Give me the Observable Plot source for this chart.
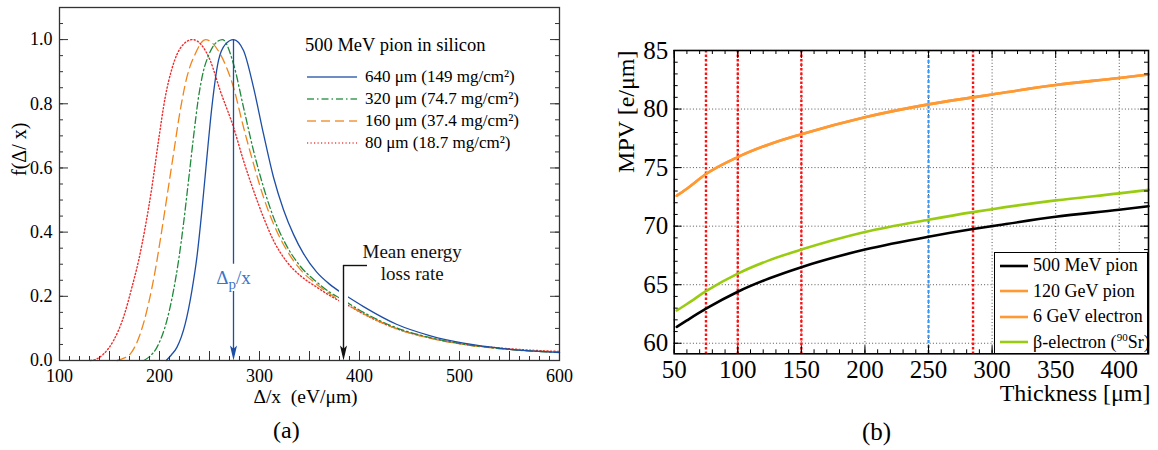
<!DOCTYPE html>
<html><head><meta charset="utf-8">
<script src="https://cdn.jsdelivr.net/npm/d3@7"></script>
<script src="https://cdn.jsdelivr.net/npm/@observablehq/plot@0.6"></script>
<style>
body{margin:0;background:#fff;}
#wrap{position:relative;width:1158px;height:450px;overflow:hidden;font-family:"Liberation Serif","Times New Roman",serif;color:#000;}
#wrap svg text{font-family:"Liberation Serif","Times New Roman",serif !important;}
.abs{position:absolute;white-space:nowrap;line-height:1;}
.row{position:absolute;white-space:nowrap;display:flex;align-items:center;}
</style></head><body><div id="wrap"></div>
<script>
// ---------------- Panel (a) data: 500 MeV pion in silicon ----------------
const seriesA = ["640 μm (149 mg/cm²)", "320 μm (74.7 mg/cm²)", "160 μm (37.4 mg/cm²)", "80 μm (18.7 mg/cm²)"];
const delta640 = [206.7, 212, 217.4, 225.7, 232.4, 237.4, 242.4, 247.4, 251, 259, 266, 274, 284, 294, 304, 314, 324, 334, 344, 357, 370, 381, 389, 404, 437, 471, 504, 544, 600];
const f640     = [0, 0.018, 0.041, 0.114, 0.218, 0.322, 0.467, 0.633, 0.75, 0.935, 0.986, 1.0, 0.966, 0.851, 0.706, 0.571, 0.47, 0.393, 0.333, 0.276, 0.238, 0.213, 0.197, 0.168, 0.113, 0.077, 0.054, 0.037, 0.025];
const delta320 = [184.5, 190, 197.4, 207.4, 214, 219, 224, 229, 234, 239, 244, 249, 255, 263, 274, 284, 294, 304, 314, 327, 341, 357, 370, 381, 389, 404, 437, 471, 504, 544, 600];
const f320     = [0, 0.012, 0.041, 0.125, 0.218, 0.31, 0.426, 0.56, 0.696, 0.82, 0.903, 0.95, 0.985, 1.0, 0.924, 0.789, 0.654, 0.54, 0.446, 0.358, 0.293, 0.245, 0.213, 0.193, 0.178, 0.15, 0.102, 0.071, 0.051, 0.036, 0.025];
const delta160 = [157.7, 165, 170.7, 180.7, 189, 195.7, 200.7, 207.4, 214, 220.7, 227.4, 235.7, 246, 260.7, 274, 284, 294, 304, 314, 327, 341, 357, 370, 381, 389, 404, 437, 471, 504, 544, 600];
const f160     = [0, 0.008, 0.02, 0.083, 0.177, 0.28, 0.374, 0.509, 0.644, 0.779, 0.883, 0.955, 1.0, 0.955, 0.851, 0.727, 0.613, 0.509, 0.426, 0.345, 0.283, 0.238, 0.208, 0.187, 0.172, 0.146, 0.099, 0.069, 0.05, 0.036, 0.026];
const delta80  = [131, 138, 144, 154, 164, 172.4, 179, 185.7, 192.4, 199, 205.7, 212.4, 222.4, 233, 250.7, 260.7, 274, 284, 294, 304, 314, 327, 341, 357, 370, 381, 389, 404, 437, 471, 504, 544, 600];
const f80      = [0, 0.006, 0.02, 0.062, 0.135, 0.228, 0.31, 0.415, 0.54, 0.685, 0.82, 0.909, 0.98, 1.0, 0.935, 0.841, 0.727, 0.623, 0.53, 0.446, 0.374, 0.309, 0.264, 0.229, 0.203, 0.184, 0.171, 0.145, 0.099, 0.07, 0.051, 0.038, 0.028];
const meanLossRate = 384;               // eV/μm, "Mean energy loss rate" arrow
const xTickLabelsA = [100, 200, 300, 400, 500, 600];
const yTickLabelsA = [0, 0.2, 0.4, 0.6, 0.8, 1.0];
const legendTitleA = "500 MeV pion in silicon";

// ---------------- Panel (b) data: MPV vs thickness ----------------
const seriesB = ["500 MeV pion", "120 GeV pion", "6 GeV electron", "β-electron (⁹⁰Sr)"];
const thickness   = [52, 60, 75, 100, 125, 150, 200, 250, 285, 300, 350, 400, 423];
const mpvPion500  = [61.4, 61.95, 62.95, 64.4, 65.55, 66.5, 68.0, 69.1, 69.75, 70.0, 70.8, 71.4, 71.7];
const mpvPion120  = [72.6, 73.2, 74.45, 75.9, 77.0, 77.85, 79.3, 80.4, 81.0, 81.25, 82.05, 82.65, 82.95];
const mpvElectron6= [72.6, 73.2, 74.45, 75.9, 77.0, 77.85, 79.3, 80.4, 81.0, 81.25, 82.05, 82.65, 82.95];
const mpvBetaSr90 = [62.8, 63.35, 64.45, 65.95, 67.1, 68.0, 69.5, 70.55, 71.2, 71.45, 72.2, 72.8, 73.1];
const redLinesB  = [75, 100, 150, 285];
const blueLinesB = [250];
const xTickLabelsB = [50, 100, 150, 200, 250, 300, 350, 400];
const yTickLabelsB = [60, 65, 70, 75, 80, 85];

// ---------------- helpers ----------------
const FONT = "Liberation Serif, Times New Roman, serif";
const wrap = document.getElementById("wrap");
function place(el, left, top) { el.style.position = "absolute"; el.style.left = left + "px"; el.style.top = top + "px"; wrap.appendChild(el); return el; }
const pts = (xs, ys) => xs.map((x, i) => ({x, y: ys[i]}));
function frameTicks(o) {
  const m = [];
  const s = o.stroke || "#222";
  if (o.bottom) { m.push(Plot.ruleX(o.xMinor, {insetTop: o.innerH - o.minor, stroke: s})); m.push(Plot.ruleX(o.xMajor, {insetTop: o.innerH - o.major, stroke: s})); }
  if (o.top)    { m.push(Plot.ruleX(o.xMinor, {insetBottom: o.innerH - o.minor, stroke: s})); m.push(Plot.ruleX(o.xMajor, {insetBottom: o.innerH - o.major, stroke: s})); }
  if (o.left)   { m.push(Plot.ruleY(o.yMinor, {insetRight: o.innerW - o.minor, stroke: s})); m.push(Plot.ruleY(o.yMajor, {insetRight: o.innerW - o.major, stroke: s})); }
  if (o.right)  { m.push(Plot.ruleY(o.yMinor, {insetLeft: o.innerW - o.minor, stroke: s})); m.push(Plot.ruleY(o.yMajor, {insetLeft: o.innerW - o.major, stroke: s})); }
  return m;
}
// narrow filled arrow head, tip at the data point, pointing down
const headSymbol = { draw(ctx, size) { const r = Math.sqrt(size / Math.PI); const w = r * 0.7, h = r * 3; ctx.moveTo(0, 0); ctx.lineTo(-w, -h); ctx.lineTo(0, -h * 0.78); ctx.lineTo(w, -h); ctx.closePath(); } };

// ---------------- Panel (a) ----------------
const aW = 580, aH = 410, aML = 59, aMR = 21, aMT = 7, aMB = 50;
const aInnerW = aW - aML - aMR, aInnerH = aH - aMT - aMB;
const colA = {b: "#1d4ea6", g: "#1f8a3a", o: "#f0851c", r: "#ee2b2b"};
const peakX = delta640[f640.indexOf(d3.max(f640))];

const plotA = Plot.plot({
  width: aW, height: aH, marginLeft: aML, marginRight: aMR, marginTop: aMT, marginBottom: aMB,
  style: {fontFamily: FONT, fontSize: "18px", color: "#000", background: "transparent", overflow: "visible"},
  x: {domain: [100, 600], ticks: xTickLabelsA, tickSize: 0, tickPadding: 9, tickFormat: d => String(d), label: null},
  y: {domain: [0, 1.1], ticks: yTickLabelsA, tickSize: 0, tickPadding: 7, tickFormat: d => d.toFixed(1), label: null},
  marks: [
    Plot.line(pts(delta80, f80),   {x: "x", y: "y", curve: "monotone-x", stroke: colA.r, strokeWidth: 1.4, strokeDasharray: "1.2,2.3"}),
    Plot.line(pts(delta160, f160), {x: "x", y: "y", curve: "monotone-x", stroke: colA.o, strokeWidth: 1.3, strokeDasharray: "9,5"}),
    Plot.line(pts(delta320, f320), {x: "x", y: "y", curve: "monotone-x", stroke: colA.g, strokeWidth: 1.3, strokeDasharray: "7,3,1.5,3"}),
    Plot.line(pts(delta640, f640), {x: "x", y: "y", curve: "monotone-x", stroke: colA.b, strokeWidth: 1.3}),
    // Delta_p/x arrow
    Plot.ruleX([peakX], {y1: 1.0, y2: 0.03, stroke: colA.b, strokeWidth: 1.3}),
    Plot.dot([{x: peakX, y: 0}], {x: "x", y: "y", r: 5, symbol: headSymbol, fill: colA.b, stroke: null}),
    Plot.ruleX([peakX], {y1: 0.215, y2: 0.3, stroke: "white", strokeWidth: 8}),
    Plot.text([{x: peakX, y: 0.257, t: "Δp/x"}], {x: "x", y: "y", text: "t", fill: "#3b74c8", fontSize: 19, fontFamily: FONT}),
    // Mean energy loss rate arrow
    Plot.ruleX([meanLossRate], {y1: 0.11, y2: 0.27, stroke: "white", strokeWidth: 9}),
    Plot.ruleX([meanLossRate], {y1: 0.296, y2: 0.03, stroke: "#111", strokeWidth: 1.4}),
    Plot.ruleY([0.296], {x1: meanLossRate, x2: meanLossRate + 24, stroke: "#111", strokeWidth: 1.4}),
    Plot.dot([{x: meanLossRate, y: 0}], {x: "x", y: "y", r: 5, symbol: headSymbol, fill: "#111", stroke: null}),
    Plot.text([{x: 452.7, y: 0.337, t: "Mean energy"}, {x: 452.7, y: 0.27, t: "loss rate"}], {x: "x", y: "y", text: "t", fontSize: 19, fill: "#111", fontFamily: FONT}),
    // frame and ticks
    Plot.frame({stroke: "#333", strokeWidth: 1.3}),
    ...frameTicks({bottom: true, left: true, right: true, innerW: aInnerW, innerH: aInnerH, minor: 4, major: 9,
      xMinor: d3.range(100, 601, 10), xMajor: d3.range(100, 601, 50), yMinor: d3.range(0, 1.1001, 0.05), yMajor: yTickLabelsA, stroke: "#333"}),
    // axis titles
    Plot.text(["f(Δ/ x)"], {frameAnchor: "left", rotate: -90, dx: -40, dy: -8, fontSize: 20, fontFamily: FONT}),
    Plot.text(["Δ/x\u2002(eV/μm)"], {frameAnchor: "bottom", dy: 42, dx: -4, fontSize: 19.5, fontFamily: FONT})
  ]
});
// subscript p in Delta_p/x
for (const t of plotA.querySelectorAll("text")) {
  if (t.textContent === "Δp/x") {
    const target = t.querySelector("tspan") || t;
    target.textContent = "Δ";
    const sub = document.createElementNS("http://www.w3.org/2000/svg", "tspan");
    sub.setAttribute("dy", "5"); sub.setAttribute("font-size", "15"); sub.textContent = "p";
    const rest = document.createElementNS("http://www.w3.org/2000/svg", "tspan");
    rest.setAttribute("dy", "-5"); rest.textContent = "/x";
    target.appendChild(sub); target.appendChild(rest);
  }
}
place(plotA, 0, 0);

// legend (a)
const legA = document.createElement("div");
legA.className = "abs"; legA.style.fontSize = "18.5px"; legA.textContent = legendTitleA;
place(legA, 305, 36);
const legStylesA = [
  {c: colA.b, d: null}, {c: colA.g, d: "7,3,1.5,3"}, {c: colA.o, d: "9,5"}, {c: colA.r, d: "1.2,2.3"}
];
const rowYA = [76.7, 98.5, 120.5, 143];
seriesA.forEach((s, i) => {
  const row = document.createElement("div");
  row.className = "row"; row.style.height = "20px"; row.style.fontSize = "17px";
  const st = legStylesA[i];
  row.innerHTML = `<svg width="60" height="20" style="display:block"><line x1="2" x2="52" y1="10" y2="10" stroke="${st.c}" stroke-width="1.4" ${st.d ? `stroke-dasharray="${st.d}"` : ""} opacity="0.85"/></svg><span>${s}</span>`;
  place(row, 305, rowYA[i] - 10);
});

// ---------------- Panel (b) ----------------
const bW = 578, bH = 410, bML = 93.7, bMR = 10, bMT = 50, bMB = 56.7;
const bInnerW = bW - bML - bMR, bInnerH = bH - bMT - bMB;
const colB = ["#000000", "#ff9933", "#ff9933", "#99cc11"];
const valsB = [mpvPion500, mpvPion120, mpvElectron6, mpvBetaSr90];

const plotB = Plot.plot({
  width: bW, height: bH, marginLeft: bML, marginRight: bMR, marginTop: bMT, marginBottom: bMB,
  style: {fontFamily: FONT, fontSize: "25px", color: "#000", background: "transparent", overflow: "visible"},
  x: {domain: [50, 423], ticks: xTickLabelsB, tickSize: 0, tickPadding: 6, tickFormat: d => String(d), label: null},
  y: {domain: [59.1, 85], ticks: yTickLabelsB, tickSize: 0, tickPadding: 6, tickFormat: d => String(d), label: null},
  marks: [
    Plot.ruleX(xTickLabelsB.slice(1), {stroke: "#555", strokeWidth: 1, strokeDasharray: "1,2.2"}),
    Plot.ruleY(yTickLabelsB.slice(0, -1), {stroke: "#555", strokeWidth: 1, strokeDasharray: "1,2.2"}),
    Plot.ruleX(redLinesB, {stroke: "#ff1111", strokeWidth: 2.4, strokeDasharray: "2.5,2"}),
    Plot.ruleX(blueLinesB, {stroke: "#3399ff", strokeWidth: 2.2, strokeDasharray: "3,2"}),
    ...valsB.map((v, i) => Plot.line(pts(thickness, v), {x: "x", y: "y", curve: "monotone-x", stroke: colB[i], strokeWidth: 2.6})),
    Plot.frame({stroke: "#000", strokeWidth: 1.6}),
    ...frameTicks({bottom: true, top: true, left: true, right: true, innerW: bInnerW, innerH: bInnerH, minor: 4, major: 8,
      xMinor: d3.range(50, 423, 10), xMajor: xTickLabelsB, yMinor: d3.range(60, 85.01, 1), yMajor: yTickLabelsB, stroke: "#000"}),
    Plot.text(["MPV [e/μm]"], {frameAnchor: "top-left", rotate: -90, textAnchor: "end", dx: -57, fontSize: 24, fontFamily: FONT}),
    Plot.text(["Thickness [μm]"], {frameAnchor: "bottom-right", textAnchor: "end", dx: 2, dy: 47, fontSize: 24, fontFamily: FONT})
  ]
});
place(plotB, 580, 0);

// legend (b)
const legB = document.createElement("div");
legB.style.cssText = "position:absolute;background:#fff;border:1.5px solid #000;box-sizing:border-box;";
legB.style.left = "994px"; legB.style.top = "252px"; legB.style.width = "154px"; legB.style.height = "101.5px";
wrap.appendChild(legB);
const rowYB = [12.5, 38, 63.5, 89];
const labelsBHtml = ["500 MeV pion", "120 GeV pion", "6 GeV electron", "β-electron (<sup style=\"font-size:11px;vertical-align:7px\">90</sup>Sr)"];
labelsBHtml.forEach((s, i) => {
  const row = document.createElement("div");
  row.className = "row"; row.style.height = "20px"; row.style.fontSize = "18px";
  row.style.left = "4px"; row.style.top = (rowYB[i] - 10) + "px";
  row.innerHTML = `<svg width="34" height="20" style="display:block"><line x1="1" x2="29" y1="10" y2="10" stroke="${colB[i]}" stroke-width="2.6"/></svg><span>${s}</span>`;
  legB.appendChild(row);
});

// captions
const capA = document.createElement("div"); capA.className = "abs"; capA.style.fontSize = "24px"; capA.textContent = "(a)";
place(capA, 273, 418);
const capB = document.createElement("div"); capB.className = "abs"; capB.style.fontSize = "25px"; capB.textContent = "(b)";
place(capB, 862, 419);
</script></body></html>
